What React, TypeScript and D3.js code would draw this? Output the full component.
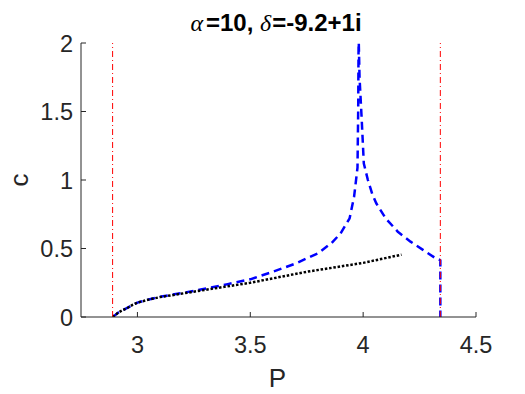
import * as d3 from 'd3'

const X_TICKS = [3, 3.5, 4, 4.5]
const Y_TICKS = [0, 0.5, 1, 1.5, 2]
const X_LABELS = ['3', '3.5', '4', '4.5']
const Y_LABELS = ['0', '0.5', '1', '1.5', '2']

// blue dashed branch (P, c)
const BLUE_P = [2.89, 2.9, 2.915, 2.935, 2.955, 2.98, 3.0, 3.05, 3.1, 3.25, 3.4, 3.5, 3.6, 3.7, 3.8, 3.86, 3.9, 3.94, 3.96,
  3.975, 3.978, 3.98, 3.984, 3.994, 4.003, 4.021, 4.04, 4.058, 4.1, 4.155, 4.21, 4.265, 4.32, 4.342, 4.342]
const BLUE_C = [0, 0.012, 0.032, 0.05, 0.066, 0.09, 0.105, 0.128, 0.148, 0.19, 0.24, 0.275, 0.33, 0.39, 0.465, 0.54, 0.61,
  0.72, 0.88, 1.09, 1.5, 2.05, 1.75, 1.43, 1.12, 1.0, 0.9, 0.83, 0.72, 0.62, 0.55, 0.49, 0.43, 0.415, 0]

// black dotted branch
const BLACK_P = [2.89, 2.9, 2.915, 2.935, 2.955, 2.98, 3.0, 3.05, 3.1, 3.25, 3.5, 3.75, 4.0, 4.17]
const BLACK_C = [0, 0.012, 0.032, 0.05, 0.066, 0.09, 0.105, 0.127, 0.145, 0.185, 0.25, 0.33, 0.395, 0.455]

// red vertical bounds
const BOUNDS = [2.89, 4.342]

const FONT = '"Liberation Sans", Arial, Helvetica, sans-serif'
const SERIF = '"Liberation Serif", "DejaVu Serif", serif'
const AXIS = '#262626'

export default function App() {
  const W = 525
  const H = 394
  const m = { left: 81, right: 49, top: 43, bottom: 77 }

  const x = d3.scaleLinear().domain([2.75, 4.5]).range([m.left, W - m.right])
  const y = d3.scaleLinear().domain([0, 2]).range([H - m.bottom, m.top])

  const line = d3.line<[number, number]>().x(d => x(d[0])).y(d => y(d[1]))
  const blue = line(BLUE_P.map((p, i) => [p, BLUE_C[i]]))!
  const black = line(BLACK_P.map((p, i) => [p, BLACK_C[i]]))!

  const y0 = y(0)
  const x0 = x(2.75)

  return (
    <svg width={W} height={H} style={{ position: 'absolute', left: 0, top: 0, background: '#fff' }}>
      <defs>
        <clipPath id="plot">
          <rect x={x0} y={y(2)} width={x(4.5) - x0} height={y0 - y(2)} />
        </clipPath>
      </defs>

      <g clipPath="url(#plot)" fill="none">
        <path d={blue} stroke="#0000ff" strokeWidth={2.5} strokeDasharray="8,5" strokeLinejoin="round" />
        <path d={black} stroke="#000" strokeWidth={2.5} strokeDasharray="2.5,1.8" />
        {BOUNDS.map((b, i) => (
          <line key={i} x1={x(b)} x2={x(b)} y1={y(0)} y2={y(2)} stroke="#ff0000" strokeWidth={1}
            strokeDasharray="6,3,1,3" />
        ))}
      </g>

      {/* axes */}
      <line x1={x0} x2={x(4.5)} y1={y0} y2={y0} stroke={AXIS} strokeWidth={1} />
      <line x1={x0} x2={x0} y1={y0} y2={y(2)} stroke={AXIS} strokeWidth={1} />
      {X_TICKS.map((t, i) => (
        <g key={i}>
          <line x1={x(t)} x2={x(t)} y1={y0} y2={y0 - 5} stroke={AXIS} />
          <text x={x(t)} y={y0 + 36} textAnchor="middle" fontFamily={FONT} fontSize={23.5} fill={AXIS}>
            {X_LABELS[i]}
          </text>
        </g>
      ))}
      {Y_TICKS.map((t, i) => (
        <g key={i}>
          <line x1={x0} x2={x0 + 5} y1={y(t)} y2={y(t)} stroke={AXIS} />
          <text x={x0 - 8} y={y(t) + 8.5} textAnchor="end" fontFamily={FONT} fontSize={23.5} fill={AXIS}>
            {Y_LABELS[i]}
          </text>
        </g>
      ))}

      <text x={277.5} y={387} textAnchor="middle" fontFamily={FONT} fontSize={26} fill={AXIS}>P</text>
      <text transform={`translate(28,${(y0 + y(2)) / 2}) rotate(-90)`} textAnchor="middle" fontFamily={FONT}
        fontSize={26} fill={AXIS}>c</text>

      <text x={276} y={31} textAnchor="middle" fontFamily={FONT} fontSize={24} fontWeight="bold" fill="#000">
        <tspan fontFamily={SERIF} fontStyle="italic" fontWeight="normal">α</tspan>
        <tspan dx={3}>=10, </tspan>
        <tspan fontFamily={SERIF} fontStyle="italic" fontWeight="normal">δ</tspan>
        <tspan dx={1}>=-9.2+1i</tspan>
      </text>
    </svg>
  )
}
